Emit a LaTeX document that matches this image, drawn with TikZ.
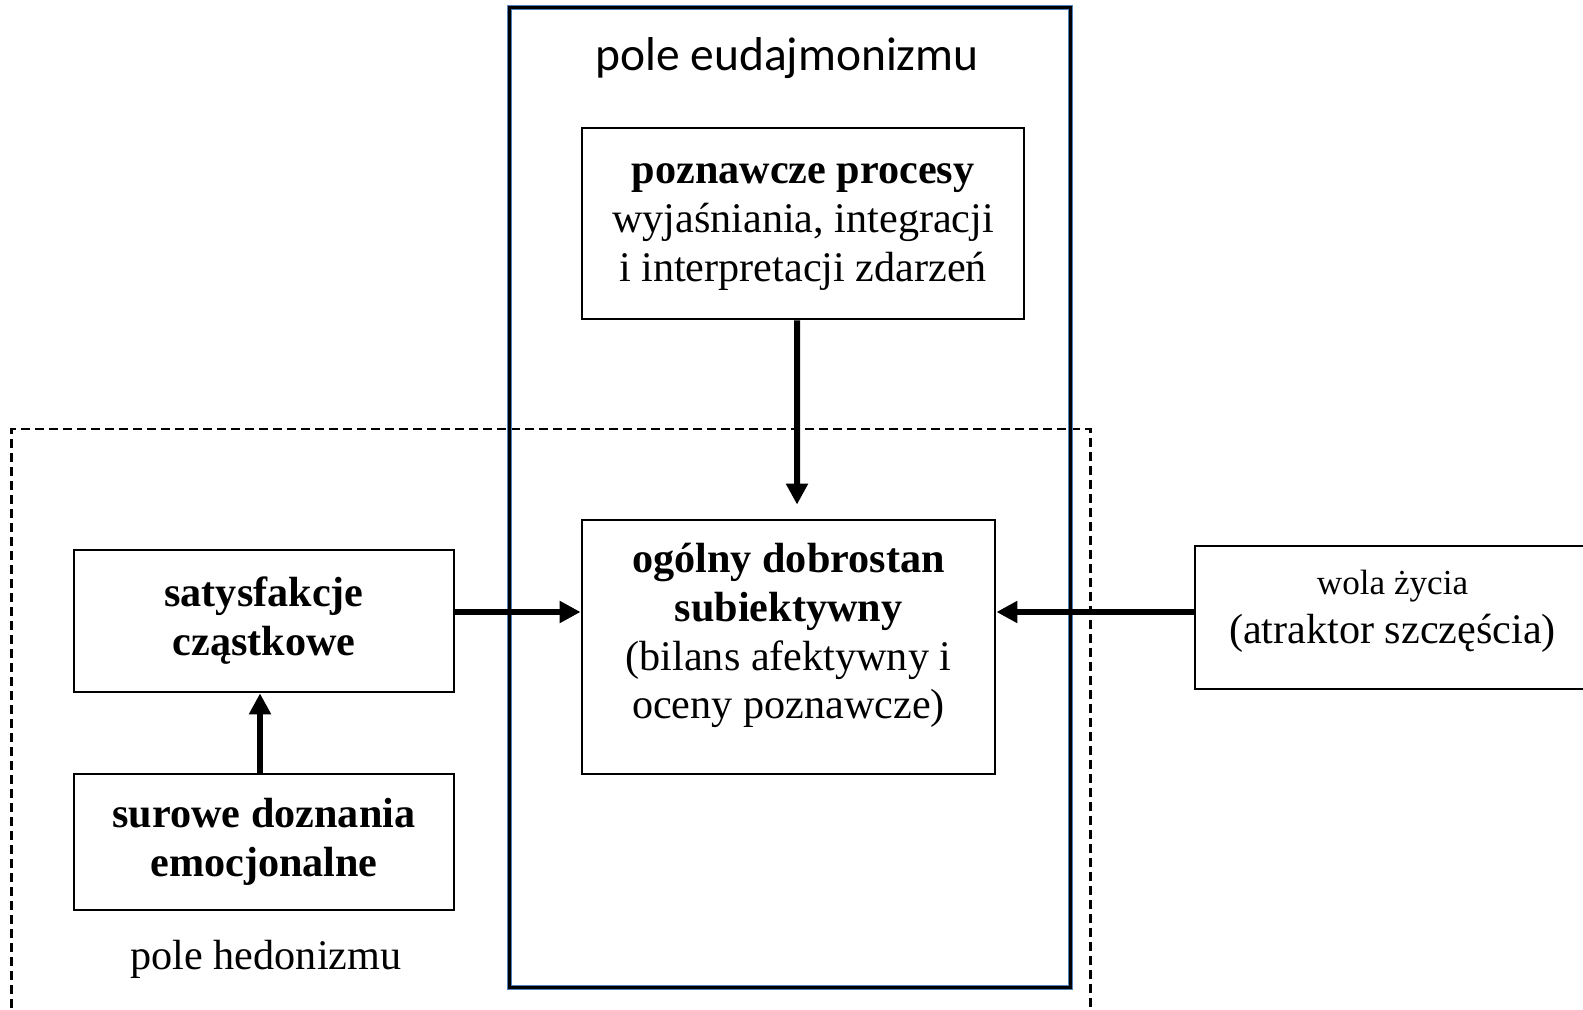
\documentclass[tikz,border=0pt]{standalone}
\usepackage{fontspec}
\setmainfont{Liberation Serif}
\newfontfamily\calibrifont{Carlito}
\usetikzlibrary{arrows.meta}
\definecolor{officeblue}{RGB}{79,129,189}

\begin{document}
\begin{tikzpicture}[
  x=0.01cm,y=-0.01cm,
  font=\fontsize{12}{13.9}\selectfont,
  block/.style={draw,line width=0.75pt,inner sep=0pt},
  field/.style={draw,line width=0.85pt,inner sep=0pt,preaction={draw=officeblue,line width=1.5pt}},
  hedfield/.style={draw,line width=0.75pt,dash pattern=on 0.09cm off 0.05cm,inner sep=0pt},
  to/.style={-{Triangle[length=0.21cm,width=0.21cm]},line width=1.7pt},
  every node/.style={align=center}]

  \useasboundingbox (0,0) rectangle (1583,1010);

  % The two fields
  \node[hedfield,minimum width=10.78cm,minimum height=6.2cm] (hed) at (551,739) {};
  \node[field,minimum width=5.6cm,minimum height=9.79cm] (eud) at (790,497.5) {};
  \node[font={\calibrifont\fontsize{13.5}{16}\selectfont}] (eudlabel) at (787,58) {pole eudajmonizmu};
  \node (hedlabel) at (266,959) {pole hedonizmu};

  % Position the blocks
  \node[block,minimum width=4.42cm,minimum height=1.91cm] (poz) at (803,223.5)
    {\rule{0pt}{0.27cm}\textbf{poznawcze procesy}\\wyjaśniania, integracji\\i interpretacji zdarzeń};
  \node[block,minimum width=4.13cm,minimum height=2.54cm] (ogol) at (788.5,647)
    {\textbf{ogólny dobrostan}\\\textbf{subiektywny}\\(bilans afektywny i\\oceny poznawcze)\rule[-0.32cm]{0pt}{0.1cm}};
  \node[block,minimum width=3.8cm,minimum height=1.42cm] (sat) at (264,621)
    {\textbf{satysfakcje}\\\textbf{cząstkowe}};
  \node[block,minimum width=3.8cm,minimum height=1.36cm] (sur) at (264,842)
    {\textbf{surowe doznania}\\\textbf{emocjonalne}};
  \node[block,minimum width=3.95cm,minimum height=1.43cm] (wola) at (1392.5,617.5)
    {{\fontsize{10}{12}\selectfont wola życia}\\(atraktor szczęścia)\rule[-0.22cm]{0pt}{0.1cm}};

  % Draw the arrows between the blocks
  \draw[to,shorten >=0.14cm] ([xshift=-0.06cm]poz.south) -- ([xshift=0.085cm]ogol.north);
  \draw[to] ([yshift=0.09cm]sat.east) -- ([yshift=0.09cm]sat.east -| ogol.west);
  \draw[to] ([yshift=0.055cm]wola.west) -- ([yshift=0.055cm]wola.west -| ogol.east);
  \draw[to] ([xshift=-0.04cm]sur.north) -- ([xshift=-0.04cm]sat.south);
\end{tikzpicture}
\end{document}
